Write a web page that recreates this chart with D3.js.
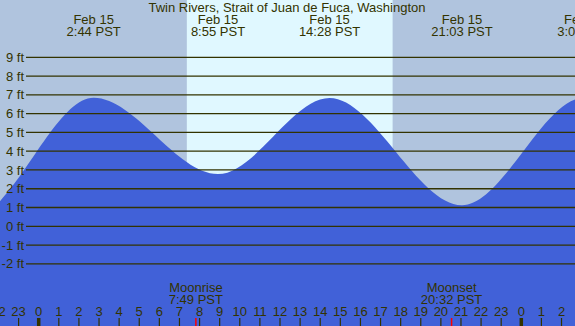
<!DOCTYPE html>
<html>
<head>
<meta charset="utf-8">
<script src="https://cdn.jsdelivr.net/npm/d3@7"></script>
<style>
  body { margin: 0; padding: 0; background: #b0c4de; }
  svg { display: block; }
  text { font-family: "Liberation Sans", Arial, sans-serif; font-size: 13px; fill: #333300; }
  .grid { stroke: #333300; stroke-width: 1.3; }
</style>
</head>
<body>
<div class="svg-container"></div>
<script>
var width = 575, height = 326;

var title = "Twin Rivers, Strait of Juan de Fuca, Washington";

// tide extremes (day of month, clock time PST, height in ft)
var tideDays = [14, 14, 15, 15, 15, 15, 16, 16];
var tideClock = ["14:20", "20:42", "2:44", "8:55", "14:28", "21:03", "3:08", "9:30"];
var tideHeights = [6.8, 0.5, 6.84, 2.78, 6.83, 1.12, 6.85, 3.2];

// sun and moon
var sunrise = "7:22", sunset = "17:36";
var moonEvents = ["Moonrise", "Moonset"];
var moonClock = ["7:49", "20:32"];

var heightTicks = [-2, -1, 0, 1, 2, 3, 4, 5, 6, 7, 8, 9];
var hourTicks = d3.range(-2, 27);

function toHours(day, clock) {
	var p = clock.split(':');
	return (day - 15) * 24 + (+p[0]) + (+p[1]) / 60;
}

var dataset = tideDays.map(function(d, i) {
	return { day: d, clock: tideClock[i], t: toHours(d, tideClock[i]), h: tideHeights[i] };
});

var xScale = d3.scaleLinear().domain([0, 24]).range([38.7, 521.3]);
var yScale = d3.scaleLinear().domain([0, 9]).range([226.3, 57.3]);

var svg = d3.select('.svg-container')
	.append('svg')
	.attr('width', width)
	.attr('height', height);

// night background + daylight band
svg.append('rect')
	.attr('width', width).attr('height', height)
	.attr('fill', '#b0c4de');

var x0 = xScale(toHours(15, sunrise)), x1 = xScale(toHours(15, sunset));
svg.append('rect')
	.attr('x', x0).attr('y', 0)
	.attr('width', x1 - x0).attr('height', height)
	.attr('fill', '#e0f8ff');

// water
var area = d3.area()
	.curve(d3.curveMonotoneX)
	.x(function(d) { return xScale(d.t); })
	.y0(height)
	.y1(function(d) { return yScale(d.h); });

svg.append('path')
	.datum(dataset)
	.attr('fill', '#4161d8')
	.attr('d', area);

// grid lines + labels
svg.selectAll('line.grid')
	.data(heightTicks)
	.enter().append('line')
	.attr('class', 'grid')
	.attr('x1', 26).attr('x2', width)
	.attr('y1', function(d) { return yScale(d); })
	.attr('y2', function(d) { return yScale(d); });

svg.selectAll('text.ylab')
	.data(heightTicks)
	.enter().append('text')
	.attr('class', 'ylab')
	.attr('x', 24)
	.attr('y', function(d) { return yScale(d); })
	.attr('dy', '0.35em')
	.attr('text-anchor', 'end')
	.text(function(d) { return d + ' ft'; });

// title
svg.append('text')
	.attr('x', 287).attr('y', 12)
	.attr('text-anchor', 'middle')
	.text(title);

// high/low labels
var labels = dataset.filter(function(d) { return xScale(d.t) > 0 && xScale(d.t) < width + 20; });
svg.selectAll('text.tday')
	.data(labels)
	.enter().append('text')
	.attr('x', function(d) { return xScale(d.t); })
	.attr('y', 24)
	.attr('text-anchor', 'middle')
	.text(function(d) { return 'Feb ' + d.day; });

svg.selectAll('text.ttime')
	.data(labels)
	.enter().append('text')
	.attr('x', function(d) { return xScale(d.t); })
	.attr('y', 36)
	.attr('text-anchor', 'middle')
	.text(function(d) { return d.clock + ' PST'; });

// moon labels
moonEvents.forEach(function(name, i) {
	var mx = xScale(toHours(15, moonClock[i]));
	svg.append('text')
		.attr('x', mx).attr('y', 292)
		.attr('text-anchor', 'middle')
		.text(name);
	svg.append('text')
		.attr('x', mx).attr('y', 304)
		.attr('text-anchor', 'middle')
		.text(moonClock[i] + ' PST');
	svg.append('line')
		.attr('x1', mx).attr('x2', mx)
		.attr('y1', 318).attr('y2', height)
		.attr('stroke', '#ff0000')
		.attr('stroke-width', 1.5);
});

// hour axis
svg.selectAll('text.hour')
	.data(hourTicks)
	.enter().append('text')
	.attr('x', function(d) { return xScale(d); })
	.attr('y', 316)
	.attr('text-anchor', 'middle')
	.text(function(d) { return ((d % 24) + 24) % 24; });

svg.selectAll('line.hour')
	.data(hourTicks)
	.enter().append('line')
	.attr('x1', function(d) { return xScale(d); })
	.attr('x2', function(d) { return xScale(d); })
	.attr('y1', 318).attr('y2', height)
	.attr('stroke', '#333300')
	.attr('stroke-width', function(d) { return d % 24 === 0 ? 3.5 : 1.2; });
</script>
</body>
</html>
